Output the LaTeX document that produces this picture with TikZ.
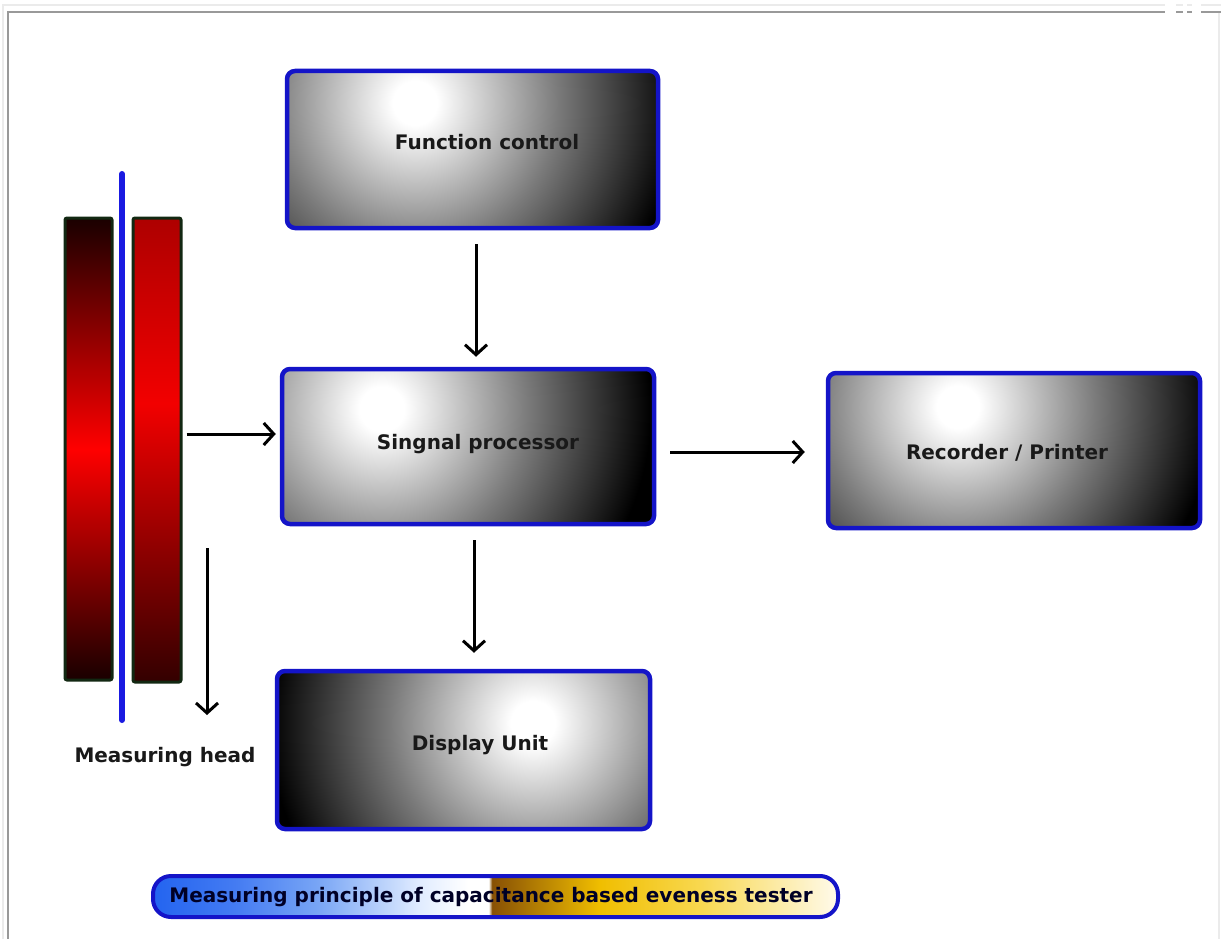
\documentclass[tikz,border=0pt]{standalone}
\usepackage{fontspec}
\setmainfont{DejaVu Sans}
\usetikzlibrary{arrows.meta}
\definecolor{boxblue}{RGB}{20,20,200}
\definecolor{linegreen}{RGB}{18,40,18}
\definecolor{headblue}{RGB}{26,26,225}
\definecolor{bandblue}{RGB}{35,100,240}
\definecolor{bandmid}{RGB}{120,165,245}
\definecolor{bandlight}{RGB}{225,236,255}
\definecolor{bandbrown}{RGB}{135,80,5}
\definecolor{bandgold}{RGB}{240,190,0}
\definecolor{bandyel}{RGB}{248,216,80}
\definecolor{bandcream}{RGB}{255,250,235}
\pgfdeclareradialshading{glow}{\pgfpoint{0bp}{0bp}}{color(0bp)=(white); color(1bp)=(white); color(6.5bp)=(black!52); color(12bp)=(black); color(50bp)=(black)}
\pgfdeclareverticalshading{barleft}{100bp}{color(0bp)=(black); color(25bp)=(black!90!red); color(50bp)=(red); color(75bp)=(black!90!red); color(100bp)=(black)}
\pgfdeclareverticalshading{barright}{100bp}{color(0bp)=(black); color(25bp)=(black!80!red); color(55bp)=(red!95!black); color(75bp)=(black!32!red); color(100bp)=(black!32!red)}
\pgfdeclarehorizontalshading{bannershade}{100bp}{color(0bp)=(bandblue); color(25bp)=(bandblue); color(31bp)=(bandblue!85!white); color(37bp)=(bandmid); color(44.5bp)=(bandlight); color(48bp)=(white); color(49.5bp)=(white); color(49.75bp)=(bandbrown); color(53.3bp)=(bandbrown!55!bandgold); color(57.6bp)=(bandgold); color(65bp)=(bandyel); color(75bp)=(bandcream); color(100bp)=(bandcream)}
\tikzset{
  blk/.style={draw=boxblue, line width=4.5pt, rounded corners=8pt, inner sep=0pt},
  lbl/.style={font=\fontsize{20}{24}\selectfont\bfseries, text=black!90, inner sep=0pt},
  bar/.style={draw=linegreen, line width=3pt, rounded corners=2pt, inner sep=0pt},
  arr/.style={line width=3pt, -{Straight Barb[length=10pt,width=22pt,line width=3pt]}},
  frame/.style={draw=black!40, line width=1.5pt},
  lframe/.style={draw=black!8, line width=1.5pt}
}
\begin{document}
\begin{tikzpicture}[x=1pt,y=-1pt]
\useasboundingbox (0,0) rectangle (1221,939);
% page frame
\draw[lframe] (3,939) -- (3,5) -- (1165,5);
\draw[lframe] (1201,5) -- (1221,5);
\draw[lframe] (1219,12) -- (1219,939);
\draw[frame] (8,939) -- (8,12) -- (1165,12);
\draw[frame] (1201,12) -- (1221,12);
\draw[lframe] (1176,5) -- (1183,5) (1187,5) -- (1192,5);
\draw[frame] (1176,12) -- (1183,12) (1187,12) -- (1192,12);

% boxes
\node[blk, minimum width=371pt, minimum height=157pt,
  path picture={\shade[shading=glow] ([shift={(128,32)}]path picture bounding box.north west) circle (550pt);}]
  (fc) at (472.5,149.5) {};
\node[lbl] (fct) at (487,142) {Function control};

\node[blk, minimum width=372pt, minimum height=155pt,
  path picture={\shade[shading=glow] ([shift={(100,40)}]path picture bounding box.north west) circle (560pt);}]
  (sp) at (468,446.5) {};
\node[lbl] (spt) at (478,444) {Singnal processor};

\node[blk, minimum width=372pt, minimum height=155pt,
  path picture={\shade[shading=glow] ([shift={(130,34)}]path picture bounding box.north west) circle (530pt);}]
  (rp) at (1014,450.5) {};
\node[lbl] (rpt) at (1007,453) {Recorder / Printer};

\node[blk, minimum width=373pt, minimum height=158pt,
  path picture={\shade[shading=glow] ([shift={(256,52)}]path picture bounding box.north west) circle (550pt);}]
  (du) at (463.5,750) {};
\node[lbl] (dut) at (480,745) {Display Unit};

% measuring head
\node[bar, minimum width=47pt, minimum height=462pt, shading=barleft, shade] (barL) at (88.5,449) {};
\node[bar, minimum width=48pt, minimum height=464pt, shading=barright, shade] (barR) at (157,450) {};
\draw[headblue, line width=6pt, line cap=round] (122,174) -- (122,720);
\node[lbl] (mht) at (165,757) {Measuring head};
\coordinate (m1) at (207,548);
\coordinate (m2) at (207,715);

% arrows
\draw[arr, shorten <=14pt, shorten >=10pt] ([xshift=3.5pt]fc.south) -- ([xshift=8pt]sp.north);
\draw[arr, shorten <=4pt, shorten >=4pt] ([yshift=16pt]barR.east) -- ([yshift=12.5pt]sp.west);
\draw[arr, shorten <=14pt, shorten >=21pt] ([yshift=-5.5pt]sp.east) -- ([yshift=-1.5pt]rp.west);
\draw[arr, shorten <=14pt, shorten >=16pt] ([xshift=6pt]sp.south) -- ([xshift=10.5pt]du.north);
\draw[arr] (m1) -- (m2);

% banner
\node[draw=boxblue, line width=4pt, rounded corners=18pt, minimum width=685pt, minimum height=41pt, inner sep=0pt,
  path picture={\shade[shading=bannershade] (path picture bounding box.south west) rectangle (path picture bounding box.north east);}]
  (ban) at (495.5,896.5) {};
\node[lbl, text=black!85!blue] (bant) at (491,897) {Measuring principle of capacitance based eveness tester};
\end{tikzpicture}
\end{document}
